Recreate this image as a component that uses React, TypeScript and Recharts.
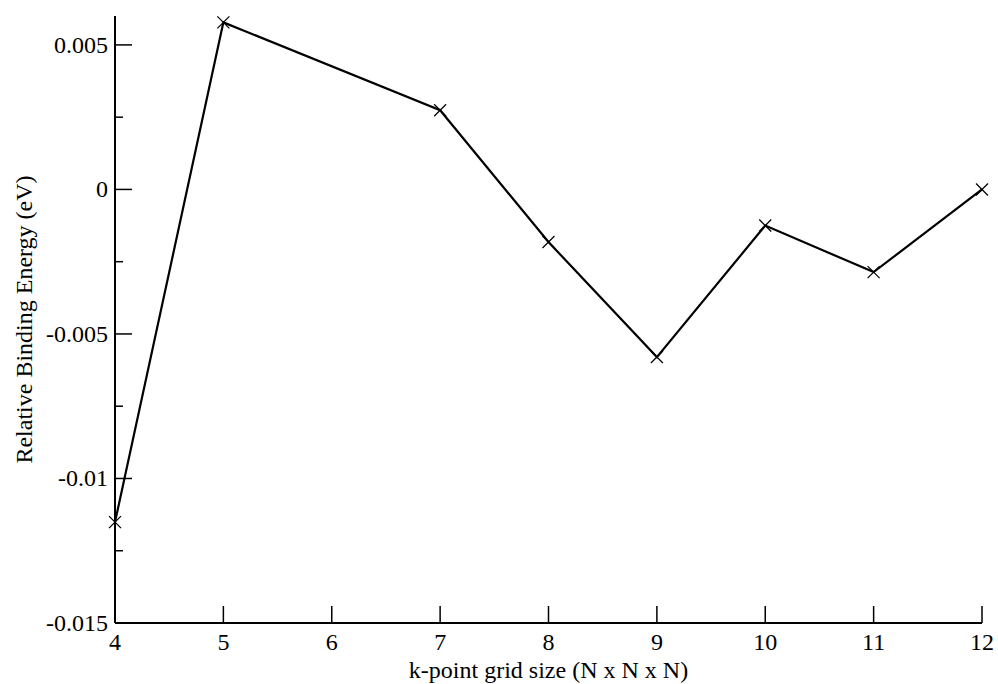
import React from "react"
import { LineChart, Line, XAxis, YAxis, Label } from "recharts"

const gridSizes = [4, 5, 7, 8, 9, 10, 11, 12]
const relEnergy = [-0.01151, 0.00578, 0.00274, -0.00182, -0.0058, -0.00125, -0.00286, 0]

const xTicks = [4, 5, 6, 7, 8, 9, 10, 11, 12]
const yMajorTicks = [-0.015, -0.01, -0.005, 0, 0.005]
const yMinorTicks = [-0.0125, -0.0075, -0.0025, 0.0025]

const data = gridSizes.map((n, i) => ({ n, e: relEnergy[i] }))

const FONT = "'Liberation Serif', 'Times New Roman', serif"
const MAJOR = 17
const MINOR = 8

const isMajor = (v: number) => yMajorTicks.includes(v)

const BottomTick = (props: any) => {
    const { x, y, payload } = props
    return (
        <g>
            <line x1={x} y1={y} x2={x} y2={y - MAJOR} stroke="#000" strokeWidth={1.5} />
            <text x={x} y={y + 27} textAnchor="middle" fontFamily={FONT} fontSize={24} fill="#000">{payload.value}</text>
        </g>
    )
}

const TopTick = (props: any) => {
    const { x, y } = props
    return <line x1={x} y1={y} x2={x} y2={y + MAJOR} stroke="#000" strokeWidth={1.5} />
}

const LeftTick = (props: any) => {
    const { x, y, payload } = props
    const major = isMajor(payload.value)
    return (
        <g>
            <line x1={x} y1={y} x2={x + (major ? MAJOR : MINOR)} y2={y} stroke="#000" strokeWidth={1.5} />
            {major && (
                <text x={x - 7} y={y + 8} textAnchor="end" fontFamily={FONT} fontSize={24} fill="#000">{String(payload.value)}</text>
            )}
        </g>
    )
}

const RightTick = (props: any) => {
    const { x, y, payload } = props
    const major = isMajor(payload.value)
    return <line x1={x} y1={y} x2={x - (major ? MAJOR : MINOR)} y2={y} stroke="#000" strokeWidth={1.5} />
}

const Cross = (props: any) => {
    const { cx, cy } = props
    if (cx == null || cy == null) return null
    const s = 6
    return (
        <g>
            <line x1={cx - s} y1={cy - s} x2={cx + s} y2={cy + s} stroke="#000" strokeWidth={1.3} />
            <line x1={cx - s} y1={cy + s} x2={cx + s} y2={cy - s} stroke="#000" strokeWidth={1.3} />
        </g>
    )
}

const App = () => {
    const yTicks = [...yMajorTicks, ...yMinorTicks].sort((a, b) => a - b)
    const axisLine = { stroke: "#000", strokeWidth: 2 }
    return (
        <div style={{ position: "absolute", left: 0, top: 0 }}>
            <LineChart width={998} height={684} data={data} margin={{ top: 16, right: 16, left: 0, bottom: 0 }}
                style={{ fontFamily: FONT }}>
                <XAxis dataKey="n" type="number" domain={[4, 12]} ticks={xTicks}
                    height={61} tickSize={0} tickMargin={0} tickLine={false} axisLine={axisLine}
                    tick={<BottomTick />} interval={0}>
                    <Label value="k-point grid size (N x N x N)" position="insideBottom" offset={6}
                        style={{ fontFamily: FONT, fontSize: 24, fill: "#000" }} />
                </XAxis>
                <XAxis xAxisId="top" orientation="top" type="number" domain={[4, 12]} ticks={xTicks} allowDataOverflow
                    height={0} tickSize={0} tickMargin={0} tickLine={false} axisLine={axisLine}
                    tick={<TopTick />} interval={0} />
                <YAxis type="number" domain={[-0.015, 0.006]} ticks={yTicks}
                    width={115} tickSize={0} tickMargin={0} tickLine={false} axisLine={axisLine}
                    tick={<LeftTick />} interval={0}>
                    <Label value="Relative Binding Energy (eV)" angle={-90} position="insideLeft" offset={23}
                        style={{ fontFamily: FONT, fontSize: 24, fill: "#000", textAnchor: "middle" }} />
                </YAxis>
                <YAxis yAxisId="right" orientation="right" type="number" domain={[-0.015, 0.006]} ticks={yTicks} allowDataOverflow
                    width={0} tickSize={0} tickMargin={0} tickLine={false} axisLine={axisLine}
                    tick={<RightTick />} interval={0} />
                <Line type="linear" dataKey="e" stroke="#000" strokeWidth={2.2} dot={<Cross />} activeDot={false}
                    isAnimationActive={false} />
            </LineChart>
        </div>
    )
}

export default App
